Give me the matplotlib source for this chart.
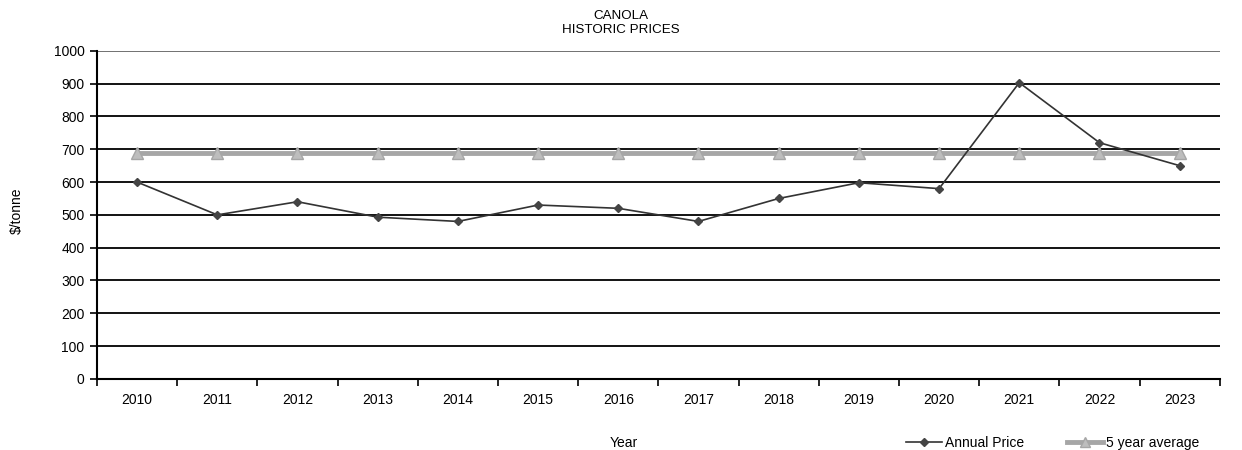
import matplotlib
matplotlib.use("Agg")
import matplotlib.pyplot as plt
from matplotlib.lines import Line2D

plt.rcParams['font.family'] = ['Liberation Sans', 'DejaVu Sans']

years = ['2010', '2011', '2012', '2013', '2014', '2015', '2016',
         '2017', '2018', '2019', '2020', '2021', '2022', '2023']
annual_price = [600, 500, 540, 493, 480, 530, 520, 480, 550, 598, 580, 903, 720, 650]
five_year_avg = [690] * len(years)
y_ticks = list(range(0, 1001, 100))

fig = plt.figure(figsize=(12.42, 4.5), dpi=100)
ax = fig.add_axes([0.0781, 0.158, 0.904, 0.729])

x = list(range(len(years)))
ax.plot(x, five_year_avg, color='#a6a6a6', linewidth=3.5, marker='^',
        markersize=8, markerfacecolor='#bdbdbd', markeredgecolor='#a6a6a6', zorder=3)
ax.plot(x, annual_price, color='#333333', linewidth=1.2, marker='D',
        markersize=4.5, markerfacecolor='#444444', markeredgecolor='#444444', zorder=4)

ax.set_xlim(-0.5, len(years) - 0.5)
ax.set_ylim(0, 1000)
ax.set_yticks(y_ticks)
ax.set_yticklabels([str(v) for v in y_ticks], fontsize=10)
ax.set_xticks([i - 0.5 for i in range(len(years))] + [len(years) - 0.5])
ax.set_xticklabels([])
ax.set_xticks(x, minor=True)
ax.set_xticklabels(years, minor=True, fontsize=10)
ax.tick_params(axis='x', which='minor', length=0, pad=10)
ax.tick_params(axis='x', which='major', length=5, width=1.2, direction='out')
ax.tick_params(axis='y', length=5, width=1.2, direction='out', pad=4)

for v in y_ticks[1:]:
    ax.axhline(v, color='#000000' if v < 1000 else '#666666', linewidth=1.3, zorder=1)

for side in ['top', 'right']:
    ax.spines[side].set_visible(False)
ax.spines['left'].set_linewidth(1.5)
ax.spines['bottom'].set_linewidth(1.5)

fig.text(0.5, 0.978, 'CANOLA\nHISTORIC PRICES', ha='center', va='top', fontsize=9.6,
         linespacing=1.25)
fig.text(0.0137, 0.531, '$/tonne', rotation=90, ha='center', va='center', fontsize=10)
fig.text(0.502, 0.016, 'Year', ha='center', va='center', fontsize=10)

handles = [
    Line2D([0], [0], color='#333333', linewidth=1.2, marker='D', markersize=4.5,
           markerfacecolor='#444444', markeredgecolor='#444444'),
    Line2D([0], [0], color='#a6a6a6', linewidth=3.5, marker='^', markersize=7,
           markerfacecolor='#bdbdbd', markeredgecolor='#a6a6a6'),
]
fig.legend(handles, ['Annual Price', '5 year average'], loc='center left',
           bbox_to_anchor=(0.7292, 0.016), ncol=2, frameon=False, fontsize=10,
           handlelength=2.6, handletextpad=0.2, columnspacing=3.1,
           borderpad=0.0, borderaxespad=0.0)

fig.savefig('out.png', dpi=100)
